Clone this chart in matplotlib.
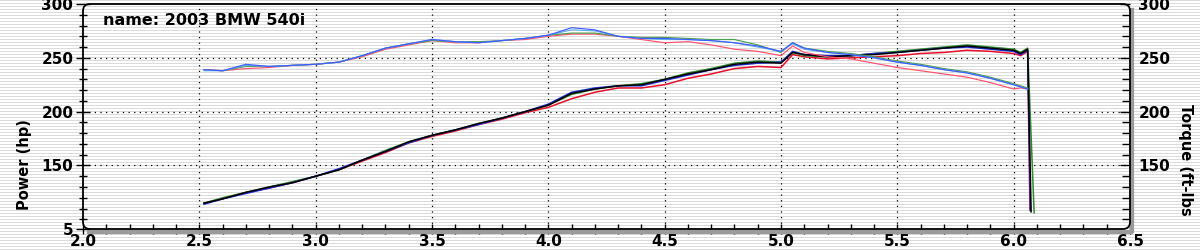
import numpy as np
import matplotlib
matplotlib.use('Agg')
import matplotlib.pyplot as plt
from matplotlib.ticker import MultipleLocator
from matplotlib.patches import FancyBboxPatch
from matplotlib.lines import Line2D

# engine speed (x1000 rpm) shared by all runs
rpm = [2.52, 2.6, 2.7, 2.8, 2.9, 3.0, 3.1, 3.2, 3.3, 3.4, 3.5, 3.6, 3.7, 3.8, 3.9,
       4.0, 4.1, 4.2, 4.3, 4.4, 4.5, 4.6, 4.7, 4.8, 4.9, 5.0, 5.05, 5.1, 5.2, 5.3,
       5.4, 5.5, 5.6, 5.7, 5.8, 5.9, 6.0, 6.03, 6.06]

# Power (hp), 4 pulls
power_black = [115, 119, 125, 130, 134, 140, 146, 155, 163, 172, 178, 183, 189, 194, 200,
               206, 217, 221, 224, 225, 230, 235, 239, 244, 246, 245, 255, 253, 251, 252,
               253, 255, 257, 259, 261, 259, 257, 254, 258]
power_blue = [114, 119, 124, 129, 134, 140, 147, 155, 163, 171, 178, 183, 188, 194, 200,
              207, 218, 222, 224, 224, 229, 234, 239, 243, 245, 246, 256, 253, 252, 252,
              254, 255, 257, 259, 260, 258, 256, 253, 257]
power_red = [115, 119, 125, 129, 134, 140, 146, 154, 162, 171, 177, 182, 188, 193, 199,
             204, 212, 218, 222, 222, 225, 231, 235, 240, 242, 241, 253, 251, 249, 250,
             251, 252, 254, 255, 257, 256, 254, 252, 256]
power_green = [115, 120, 125, 130, 135, 140, 146, 155, 164, 172, 178, 183, 189, 194, 200,
               206, 216, 221, 224, 226, 230, 236, 240, 245, 247, 246, 255, 252, 251, 252,
               254, 256, 258, 260, 262, 260, 258, 255, 259]
# where each pull lets off (black, blue, red, green)
rpm_drop = [6.075, 6.072, 6.07, 6.088]
power_drop = [107, 108, 109, 106]

# Torque (ft-lbs), 4 pulls
torque_blue = [239, 238, 244, 242, 243, 244, 246, 252, 259, 263, 267, 265, 264, 266, 268,
               271, 278, 276, 270, 268, 268, 267, 266, 264, 261, 256, 264, 259, 255, 253,
               250, 246, 243, 239, 236, 231, 225, 223, 221]
torque_green = [239, 238, 242, 242, 243, 244, 246, 252, 259, 263, 266, 265, 265, 266, 268,
                271, 273, 273, 270, 269, 269, 268, 267, 267, 262, 255, 264, 259, 256, 254,
                251, 247, 244, 240, 237, 232, 226, 224, 222]
torque_red = [239, 238, 240, 241, 243, 244, 246, 251, 258, 262, 266, 264, 264, 266, 267,
              270, 272, 272, 270, 267, 264, 265, 262, 258, 256, 252, 261, 255, 251, 249,
              245, 241, 238, 235, 232, 227, 221, 222, 221]
torque_cyan = [238, 238, 243, 242, 243, 244, 246, 252, 259, 263, 267, 265, 264, 266, 268,
               271, 276, 275, 270, 268, 267, 267, 266, 264, 260, 256, 263, 258, 255, 253,
               250, 246, 243, 239, 236, 231, 225, 223, 221]

x_ticks = [2.0, 2.5, 3.0, 3.5, 4.0, 4.5, 5.0, 5.5, 6.0, 6.5]
y_ticks_left = [91, 150, 200, 250, 300]
y_labels_left = ['5', '150', '200', '250', '300']
y_ticks_right = [150, 200, 250, 300]

W, H = 1200, 250
fig = plt.figure(figsize=(W / 100, H / 100), dpi=100)
fig.patch.set_facecolor('white')

# scan-line background like the screenshot
bg = np.ones((H, W, 3))
bg[::3, :, :] = 0.86
fig.figimage(bg, xo=0, yo=0, zorder=-10)

ax0, ay0, ax1, ay1 = 83, 21, 1130, 246  # plot box in pixels (from bottom)
ax = fig.add_axes([ax0 / W, ay0 / H, (ax1 - ax0) / W, (ay1 - ay0) / H])
ax.set_facecolor('none')
ax.set_xlim(2.0, 6.5)
ax.set_ylim(91, 300)
for s in ax.spines.values(): s.set_visible(False)

ax2 = ax.twinx()
ax2.set_ylim(91, 300)
for s in ax2.spines.values(): s.set_visible(False)

# dotted grid
dots = (0, (1, 3.5))
for xv in x_ticks[1:-1]:
    ax.axvline(xv, color='black', lw=0.9, linestyle=dots, zorder=1)
for yv in [150, 200, 250]:
    ax.axhline(yv, color='black', lw=0.9, linestyle=dots, zorder=1)

# torque runs
tq_runs = [(torque_red, '#ff4f6e'), (torque_green, '#4e9e4e'),
           (torque_cyan, '#62aee6'), (torque_blue, '#3d5cff')]
for vals, col in tq_runs:
    ax2.plot(rpm, vals, color=col, lw=0.85, zorder=3)

# power runs, with the drop at let-off
pw_runs = [(power_red, '#e8102a', 2), (power_green, '#2f8a2f', 3),
           (power_blue, '#1a2ad6', 1), (power_black, '#000000', 0)]
for vals, col, k in pw_runs:
    ax.plot(rpm + [rpm_drop[k]], vals + [power_drop[k]], color=col, lw=1.1, zorder=4)

# ticks
ax.set_xticks(x_ticks)
ax.set_xticklabels([f'{v:.1f}' for v in x_ticks])
ax.xaxis.set_minor_locator(MultipleLocator(0.1))
ax.set_yticks(y_ticks_left)
ax.set_yticklabels(y_labels_left)
ax.yaxis.set_minor_locator(MultipleLocator(10))
ax.tick_params(axis='x', which='both', direction='inout', length=7, width=1, pad=0,
               labelsize=11)
ax.tick_params(axis='y', which='major', direction='inout', length=10, width=1, pad=2,
               labelsize=11)
ax.tick_params(axis='y', which='minor', direction='inout', length=6, width=1)
ax2.set_yticks(y_ticks_right)
ax2.yaxis.set_minor_locator(MultipleLocator(10))
ax2.tick_params(axis='y', which='major', direction='in', length=7, width=1, pad=6,
                labelsize=11)
ax2.tick_params(axis='y', which='minor', direction='in', length=6, width=1)
for lbl in ax.get_xticklabels() + ax.get_yticklabels() + ax2.get_yticklabels():
    lbl.set_fontweight('bold')

# grey shadow band along bottom and right edge
px = fig.dpi_scale_trans
fig.add_artist(Line2D([(ax0 + 6) / 100, (ax1 + 1) / 100], [(ay0 - 2.5) / 100] * 2,
                      transform=px, color='#9a9a9a', lw=3, zorder=5))
fig.add_artist(Line2D([(ax1 + 1.5) / 100] * 2, [(ay0 - 2) / 100, (ay1 - 6) / 100],
                      transform=px, color='#9a9a9a', lw=3, zorder=5))
# rounded frame
frame = FancyBboxPatch((ax0 / 100, ay0 / 100), (ax1 - ax0) / 100, (ay1 - ay0) / 100,
                       boxstyle='round,pad=0,rounding_size=0.07', transform=px,
                       facecolor='none', edgecolor='black', lw=1.3, zorder=6)
fig.add_artist(frame)

ax.text(0.019, 0.96, 'name: 2003 BMW 540i', transform=ax.transAxes, fontsize=11.5,
        fontweight='bold', va='top', ha='left')

fig.text(25 / W, (H - 165) / H, 'Power (hp)', rotation=90, ha='center', va='center',
         fontsize=10.5, fontweight='bold')
fig.text(1186 / W, (H - 160) / H, 'Torque (ft-lbs', rotation=270, ha='center', va='center',
         fontsize=10.5, fontweight='bold')

fig.savefig('out.png', dpi=100)
